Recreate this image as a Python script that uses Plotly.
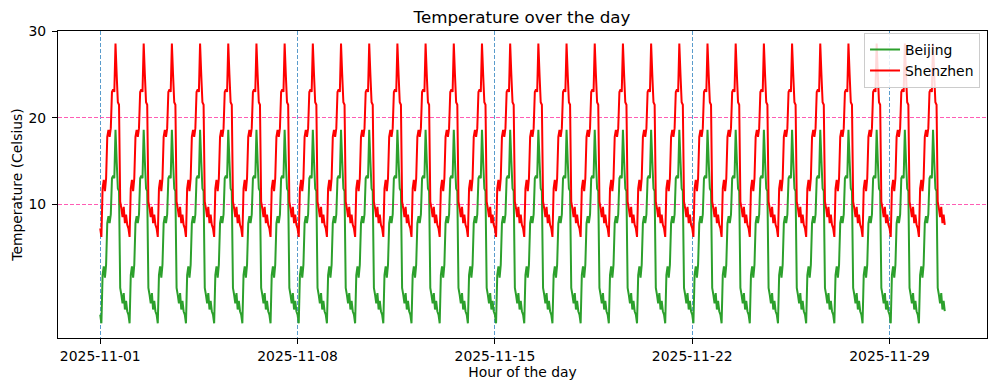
import pandas as pd
import plotly.graph_objects as go

# Hourly temperature pattern (hour 0..23), repeated each day of November 2025
hours = list(range(24))
beijing_hourly = [-2.8, -3.8, 1.8, 2.8, 1.5, 3.0, 7.8, 8.6, 7.8, 8.8, 13.0, 13.3,
                  13.0, 18.6, 15.0, 11.8, 11.5, 0.3, -0.5, -1.5, -0.3, -2.2, -1.2, -2.4]
shenzhen_hourly = [7.2, 6.2, 11.8, 12.8, 11.5, 13.0, 17.8, 18.6, 17.8, 18.8, 23.0, 23.3,
                   23.0, 28.6, 25.0, 21.8, 21.5, 10.3, 9.5, 8.5, 9.7, 7.8, 8.8, 7.6]
n_days = 30
start_date = "2025-11-01"
x_tick_dates = ["2025-11-01", "2025-11-08", "2025-11-15", "2025-11-22", "2025-11-29"]
y_tick_vals = [10, 20, 30]

times = pd.date_range(start_date, periods=24 * n_days, freq="h")
beijing = beijing_hourly * n_days
shenzhen = shenzhen_hourly * n_days

span = times[-1] - times[0]
x_range = [times[0] - 0.05 * span, times[-1] + 0.05 * span]

FONT = "DejaVu Sans"
fig = go.Figure()
fig.add_trace(go.Scatter(x=times, y=beijing, mode="lines", name="Beijing",
                         line=dict(color="#2ca02c", width=2)))
fig.add_trace(go.Scatter(x=times, y=shenzhen, mode="lines", name="Shenzhen",
                         line=dict(color="#ff0000", width=2)))

fig.update_layout(
    width=997, height=391,
    margin=dict(l=58, r=10, t=31, b=53, autoexpand=False),
    paper_bgcolor="white", plot_bgcolor="white",
    font=dict(family=FONT, size=13.9, color="black"),
    title=dict(text="Temperature over the day", x=0.5236, xanchor="center",
               y=1 - 17 / 391, yanchor="middle", yref="container",
               font=dict(family=FONT, size=16.7, color="black")),
    showlegend=True,
    legend=dict(x=0.9925, y=0.994, xanchor="right", yanchor="top",
                bgcolor="rgba(255,255,255,0.85)", bordercolor="#cccccc", borderwidth=1,
                font=dict(family=FONT, size=13.9), tracegroupgap=0, itemwidth=30),
)
fig.update_xaxes(
    range=x_range, tickvals=pd.to_datetime(x_tick_dates), tickformat="%Y-%m-%d",
    automargin=False,
    showline=True, linecolor="black", linewidth=1, mirror=True,
    ticks="outside", ticklen=5, tickcolor="black", ticklabelstandoff=0,
    showgrid=True, gridcolor="#5a9ccc", gridwidth=0.8, griddash="4px,2px",
    zeroline=False,
    title=dict(text="Hour of the day", standoff=4, font=dict(family=FONT, size=13.9)),
)
fig.update_yaxes(
    range=[-5.5, 30.05], tickvals=y_tick_vals,
    automargin=False,
    showline=True, linecolor="black", linewidth=1, mirror=True,
    ticks="outside", ticklen=5, tickcolor="black", ticklabelstandoff=3,
    showgrid=True, gridcolor="#ff5cb4", gridwidth=0.8, griddash="4px,2px",
    zeroline=False,
    title=dict(text="Temperature (Celsius)", standoff=2, font=dict(family=FONT, size=13.9)),
)
fig.write_html("out.html", config={"displayModeBar": False},
               post_script="document.body.style.margin='0';document.body.style.padding='0';")
